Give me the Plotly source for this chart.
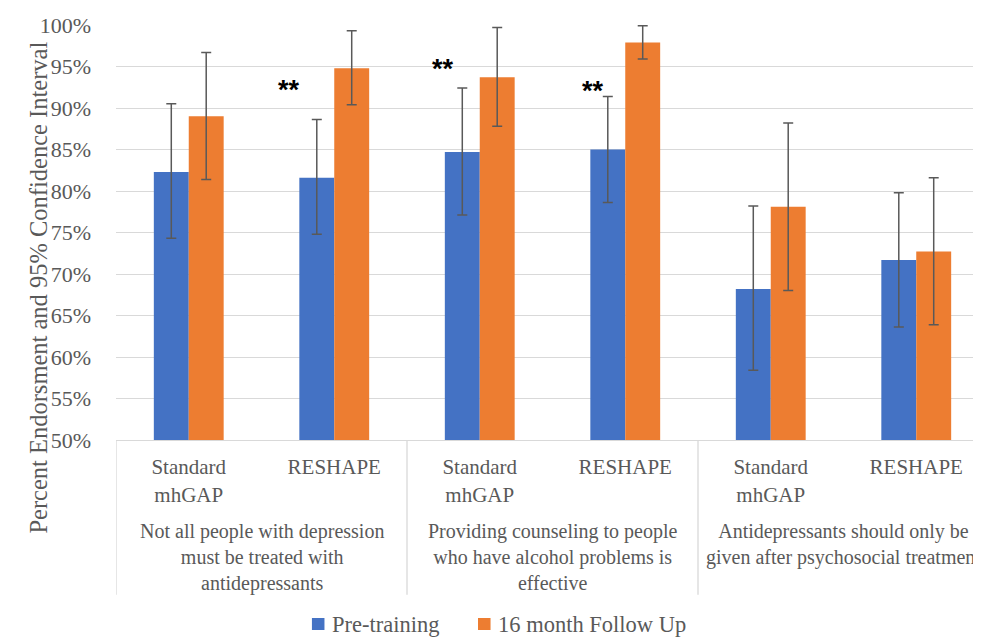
import plotly.graph_objects as go

categories = ["Standard<br>mhGAP", "RESHAPE", "Standard<br>mhGAP", "RESHAPE", "Standard<br>mhGAP", "RESHAPE"]
groups = ["Not all people with depression<br>must be treated with<br>antidepressants",
          "Providing counseling to people<br>who have alcohol problems is<br>effective",
          "Antidepressants should only be<br>given after psychosocial treatment"]
series_names = ["Pre-training", "16 month Follow Up"]
series_colors = ["#4472C4", "#ED7D31"]

pre_vals = [82.3, 81.6, 84.7, 85.0, 68.2, 71.7]
pre_hi = [90.5, 88.6, 92.4, 91.4, 78.2, 79.8]
pre_lo = [74.3, 74.8, 77.1, 78.6, 58.4, 63.6]

fu_vals = [89.0, 94.8, 93.7, 97.9, 78.1, 72.7]
fu_hi = [96.7, 99.3, 99.7, 99.9, 88.2, 81.6]
fu_lo = [81.4, 90.4, 87.8, 95.9, 68.0, 63.9]

# significance markers
sig_idx = [1, 2, 3]
sig_y = [92.2, 94.7, 92.1]

yticks = [50, 55, 60, 65, 70, 75, 80, 85, 90, 95, 100]

FONT = "Liberation Serif"
TXT = "#595959"

x = list(range(len(categories)))

fig = go.Figure()
for name, vals, hi, lo, col in [
    (series_names[0], pre_vals, pre_hi, pre_lo, series_colors[0]),
    (series_names[1], fu_vals, fu_hi, fu_lo, series_colors[1]),
]:
    fig.add_trace(go.Bar(
        x=x, y=[v - 50 for v in vals], base=50, name=name, showlegend=False,
        marker=dict(color=col, line=dict(width=0)),
        error_y=dict(type="data", symmetric=False,
                     array=[h - v for h, v in zip(hi, vals)],
                     arrayminus=[v - l for v, l in zip(vals, lo)],
                     color="#595959", thickness=1.5, width=5),
    ))

sig_off = [-0.311, -0.253, -0.222]
for i, yv, off in zip(sig_idx, sig_y, sig_off):
    fig.add_annotation(x=i + off, y=yv, text="<b>**</b>", showarrow=False,
                       font=dict(family="Liberation Sans", size=27, color="#000000"))

for gi, g in enumerate(groups):
    fig.add_annotation(x=2 * gi + 0.5, y=-0.188, xref="x", yref="paper", yanchor="top",
                       text=g, showarrow=False,
                       font=dict(family=FONT, size=20, color=TXT))

# y-axis title
fig.add_annotation(x=-0.1075, y=0.366, xref="paper", yref="paper", textangle=-90,
                   text="Percent Endorsment and 95% Confidence Interval", showarrow=False,
                   font=dict(family=FONT, size=24.5, color=TXT))

# group divider lines
for b in [-0.5, 1.5, 3.5, 5.5]:
    fig.add_shape(type="line", xref="x", yref="paper", x0=b, x1=b, y0=0, y1=-0.373,
                  line=dict(color="#D9D9D9", width=1.3))

# legend (drawn manually to sit near the bottom edge)
leg_x = [0.2265, 0.4185]
for lx, name, col in zip(leg_x, series_names, series_colors):
    fig.add_shape(type="rect", xref="paper", yref="paper", x0=lx, x1=lx + 0.0145,
                  y0=-0.4578, y1=-0.4289, fillcolor=col, line=dict(width=0))
    fig.add_annotation(x=lx + 0.0205, y=-0.4434, xref="paper", yref="paper",
                       xanchor="left", yanchor="middle", text=name, showarrow=False,
                       font=dict(family=FONT, size=22.5, color=TXT))

fig.update_layout(
    width=973, height=629,
    margin=dict(l=108, r=0, t=17, b=197),
    plot_bgcolor="white", paper_bgcolor="white",
    barmode="group", bargap=0.52, bargroupgap=0,
    font=dict(family=FONT, color=TXT, size=20),
    showlegend=False,
    xaxis=dict(range=[-0.5, 5.445], tickmode="array", tickvals=x, ticktext=categories,
               showgrid=False, zeroline=False, showline=True, linecolor="#D9D9D9",
               linewidth=1.3, ticks="", tickfont=dict(family=FONT, size=21, color=TXT),
               ticklabelstandoff=8, automargin=False),
    yaxis=dict(range=[50, 100], tickvals=yticks, ticktext=[f"{t}%" for t in yticks],
               showgrid=True, gridcolor="#D9D9D9", gridwidth=1.3, zeroline=False,
               showline=False, ticks="", tickfont=dict(family=FONT, size=22, color=TXT),
               ticklabelstandoff=24, automargin=False),
)

fig.write_html("out.html")
